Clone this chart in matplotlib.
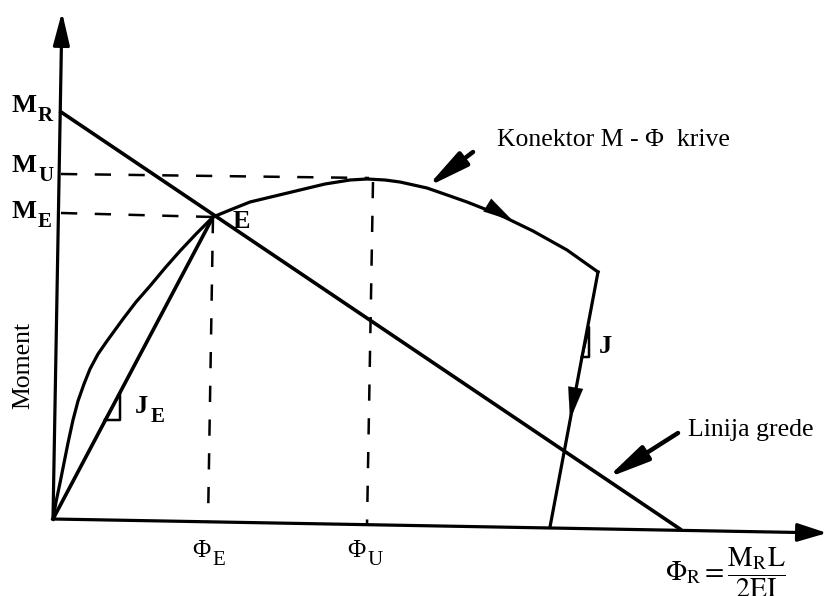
import matplotlib.pyplot as plt

plt.rcParams["font.family"] = ["Liberation Serif", "DejaVu Serif"]
plt.rcParams["mathtext.fontset"] = "stix"

# M-phi connector curve (rotation phi, moment M), origin at (0, 0)
phi_curve = [0, 3, 7, 11, 15, 20, 25, 31, 37, 45, 54, 62, 70, 83, 97, 112, 127, 143, 160,
             177, 197, 222, 247, 272, 297, 314, 332, 347, 374, 397, 414, 447, 480, 514, 545]
m_curve = [0, 17, 36, 56, 76, 99, 118, 135, 150, 165, 178, 189, 200, 217, 233, 251, 268, 285, 302,
           309, 317, 323, 329, 335, 339, 340, 339, 337, 331, 323, 317, 304, 288, 269, 247]

# unloading branch after the drop
phi_unload = [545, 497]
m_unload = [247, -8]

# beam line from M_R down to phi_R
phi_beam = [8, 627]
m_beam = [407, -10]

# secant stiffness J_E (origin -> E)
phi_secant = [0, 160]
m_secant = [0, 302]

# reference levels
m_R, m_U, m_E = 407, 340, 302
phi_E, phi_U = 160, 314

# axes (slightly skewed like the hand drawing)
x_axis = [(0, 0), (774, -14)]
y_axis = [(0, 0), (9, 507)]

# little slope triangles
tri_JE = [(52, 99), (67, 99), (67, 126)]
tri_J = [(529, 162), (536, 162), (536, 192)]

fig = plt.figure(figsize=(8.27, 5.96), dpi=100)
ax = fig.add_axes([0, 0, 1, 1])
ax.set_xlim(-53, 774)
ax.set_ylim(-77, 519)
ax.axis("off")

lw = 2.3
k = "black"


def arrow(tail, tip, ms=20, hl=0.9, hw=0.3, lw_=lw):
    ax.annotate("", xy=tip, xytext=tail,
                arrowprops=dict(arrowstyle=f"-|>,head_length={hl},head_width={hw}",
                                lw=lw_, color=k, mutation_scale=ms,
                                shrinkA=0, shrinkB=0))


def label(x, y, main, sub, size=19, subsize=15, weight="bold", drop=-3):
    t = ax.text(x, y, main, fontsize=size, fontweight=weight, va="baseline")
    ax.annotate(sub, xy=(1, 0), xycoords=t, xytext=(1.5, drop),
                textcoords="offset points", fontsize=subsize,
                fontweight=weight, va="baseline")


# axes
arrow(x_axis[0], x_axis[1], hl=0.9, hw=0.28)
arrow(y_axis[0], y_axis[1], hl=1.0, hw=0.25)

# curves
ax.plot(phi_curve, m_curve, color=k, lw=lw, solid_joinstyle="round")
ax.plot(phi_unload, m_unload, color=k, lw=lw)
ax.plot(phi_beam, m_beam, color=k, lw=lw + 0.3)
ax.plot(phi_secant, m_secant, color=k, lw=lw + 0.3)

# dashed guide lines
dash = dict(color=k, lw=1.8, dashes=(6.5, 7))
ax.plot([8, 316], [m_U + 5, m_U + 1], **dash)
ax.plot([8, phi_E], [m_E + 4, m_E], **dash)
ax.plot([phi_E, phi_E - 5], [m_E, -4], **dash)
ax.plot([phi_U + 6, phi_U], [m_U - 3, -6], **dash)

# slope triangles
for tri in (tri_JE, tri_J):
    xs, ys = zip(*tri)
    ax.plot(list(xs) + [xs[0]], list(ys) + [ys[0]], color=k, lw=1.8)

# direction arrows on the curve and on the unloading branch
arrow((439, 311), (460, 298), ms=18, hl=1.2, hw=0.3, lw_=0.1)
arrow((521, 122), (517, 99), ms=18, hl=1.3, hw=0.3, lw_=0.1)

# pointers to labels
arrow((420, 367), (374, 332), ms=18, hl=1.4, hw=0.28, lw_=3.2)
arrow((625, 86), (554, 41), ms=18, hl=1.4, hw=0.28, lw_=3.2)

# labels
label(-42, 407, "M", "R")
label(-42, 347, "M", "U")
label(-42, 301, "M", "E")
ax.text(180, 291, "E", fontsize=19, fontweight="bold", va="baseline")
label(82, 106, "J", "E")
ax.text(546, 166, "J", fontsize=19, fontweight="bold", va="baseline")

label(139, -38, "Φ", "E", size=18, subsize=15, weight="normal", drop=-2)
label(294, -38, "Φ", "U", size=18, subsize=15, weight="normal", drop=-2)
ax.text(612, -54, r"$\Phi_{\mathrm{R}} = \dfrac{\mathrm{M}_{\mathrm{R}}\mathrm{L}}{\mathrm{2EI}}$",
        fontsize=20, va="center")

ax.text(444, 373, "Konektor M - Φ  krive", fontsize=18.5, va="baseline")
ax.text(635, 83, "Linija grede", fontsize=18.5, va="baseline")
ax.text(-30, 154, "Moment", fontsize=18.5, rotation=90, ha="center", va="center")

fig.savefig("out.png", dpi=100)
